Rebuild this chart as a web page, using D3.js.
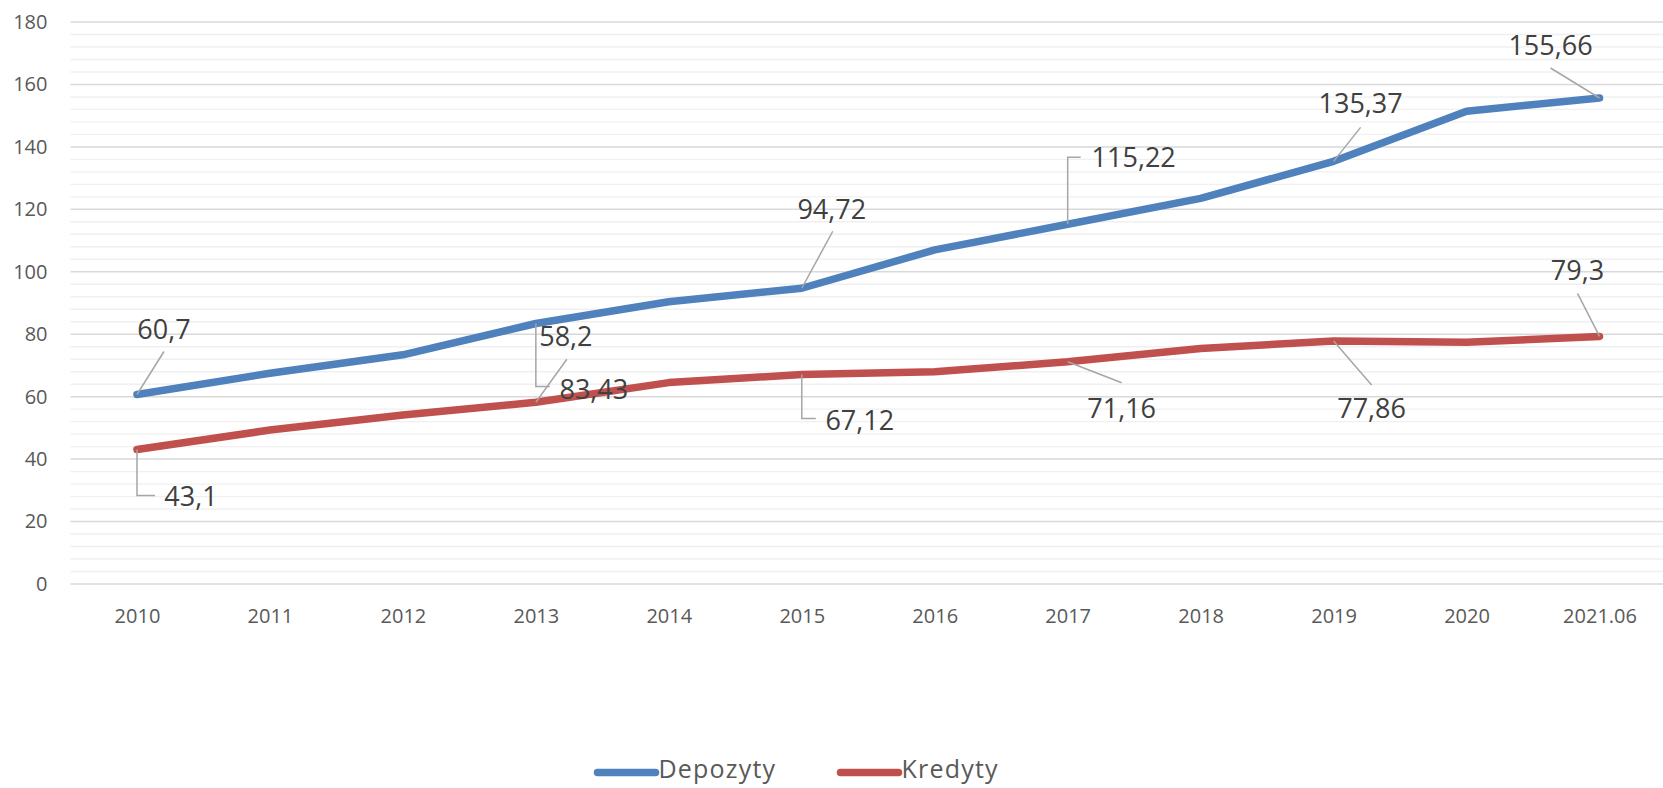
<!DOCTYPE html>
<html>
<head>
<meta charset="utf-8">
<script src="https://cdn.jsdelivr.net/npm/d3@7"></script>
<style>
  body { margin: 0; background: #fff; }
  svg { display: block; font-family: "Open Sans", sans-serif; }
</style>
</head>
<body>
<div id="chart"></div>
<script>
// data
var years = ['2010', '2011', '2012', '2013', '2014', '2015', '2016', '2017', '2018', '2019', '2020', '2021.06'];
var depozyty = [60.7, 67.5, 73.4, 83.43, 90.4, 94.72, 107.0, 115.22, 123.5, 135.37, 151.4, 155.66];
var kredyty = [43.1, 49.3, 54.1, 58.2, 64.5, 67.12, 68.0, 71.16, 75.4, 77.86, 77.4, 79.3];
var yTicks = [0, 20, 40, 60, 80, 100, 120, 140, 160, 180];
var labelled = ['2010', '2013', '2015', '2017', '2019', '2021.06'];

// where the data labels sit, relative to their point (px)
// [dx, dy] of text, [ex, ey] end of leader, elbow = bent leader
var depLabelPos = [
  { dx: 27, dy: -55, ex: 27, ey: -43, elbow: false },
  { dx: 58, dy: 75, ex: 14, ey: 63, elbow: true },
  { dx: 30, dy: -69, ex: 31, ey: -57, elbow: false },
  { dx: 66, dy: -57, ex: 13, ey: -67, elbow: true },
  { dx: 27, dy: -48, ex: 27, ey: -34, elbow: false },
  { dx: -49, dy: -43, ex: -49, ey: -30, elbow: false }
];
var kreLabelPos = [
  { dx: 54, dy: 57, ex: 18, ey: 46, elbow: true },
  { dx: 30, dy: -56, ex: 31, ey: -43, elbow: false },
  { dx: 58, dy: 56, ex: 14, ey: 44, elbow: true },
  { dx: 54, dy: 56, ex: 54, ey: 21, elbow: false },
  { dx: 38, dy: 77, ex: 38, ey: 44, elbow: false },
  { dx: -22, dy: -56, ex: -22, ey: -43, elbow: false }
];

var svgWidth = 1663;
var svgHeight = 788;
var margin = { top: 22, right: -3, bottom: 204, left: 70.5 };
var width = svgWidth - margin.left - margin.right;
var height = svgHeight - margin.top - margin.bottom;

var svg = d3.select('#chart')
  .append('svg')
  .attr('width', svgWidth)
  .attr('height', svgHeight);

var chartGroup = svg.append('g')
  .attr('transform', `translate(${margin.left}, ${margin.top})`);

var xScale = d3.scalePoint()
  .domain(years)
  .range([0, width])
  .padding(0.5);

var yScale = d3.scaleLinear()
  .domain([0, 180])
  .range([height, 0]);

// minor gridlines every 4
chartGroup.append('g')
  .selectAll('line')
  .data(d3.range(0, 181, 4).filter(v => v % 20 !== 0))
  .enter()
  .append('line')
  .attr('x1', 0)
  .attr('x2', width)
  .attr('y1', d => yScale(d))
  .attr('y2', d => yScale(d))
  .attr('stroke', '#f0f0f0')
  .attr('stroke-width', 1.4);

// major gridlines
chartGroup.append('g')
  .selectAll('line')
  .data(yTicks)
  .enter()
  .append('line')
  .attr('x1', 0)
  .attr('x2', width)
  .attr('y1', d => yScale(d))
  .attr('y2', d => yScale(d))
  .attr('stroke', '#d9d9d9')
  .attr('stroke-width', 1.5);

// axes
var leftAxis = d3.axisLeft(yScale).tickValues(yTicks).tickSize(0).tickPadding(23);
var bottomAxis = d3.axisBottom(xScale).tickSize(0).tickPadding(25);

var yAxisG = chartGroup.append('g').call(leftAxis);
var xAxisG = chartGroup.append('g')
  .attr('transform', `translate(0, ${height})`)
  .call(bottomAxis);

[yAxisG, xAxisG].forEach(function (g) {
  g.select('.domain').remove();
  g.selectAll('text')
    .attr('font-family', '"Open Sans", sans-serif')
    .attr('font-size', '20px')
    .attr('fill', '#595959');
});

// lines
var lineGen = d3.line()
  .x((d, i) => xScale(years[i]))
  .y(d => yScale(d));

var series = [
  { name: 'Depozyty', values: depozyty, color: '#4f81bd', pos: depLabelPos },
  { name: 'Kredyty', values: kredyty, color: '#c0504d', pos: kreLabelPos }
];

series.forEach(function (s) {
  chartGroup.append('path')
    .datum(s.values)
    .attr('d', lineGen)
    .attr('fill', 'none')
    .attr('stroke', s.color)
    .attr('stroke-width', 7.5)
    .attr('stroke-linecap', 'round')
    .attr('stroke-linejoin', 'round');
});

// data labels with leaders
series.forEach(function (s) {
  var g = chartGroup.append('g');
  labelled.forEach(function (yr, k) {
    var i = years.indexOf(yr);
    var px = xScale(yr);
    var py = yScale(s.values[i]);
    var p = s.pos[k];
    var d = p.elbow
      ? `M${px},${py}V${py + p.ey}H${px + p.ex}`
      : `M${px},${py}L${px + p.ex},${py + p.ey}`;
    g.append('path')
      .attr('d', d)
      .attr('fill', 'none')
      .attr('stroke', '#a6a6a6')
      .attr('stroke-width', 1.5);
    g.append('text')
      .attr('x', px + p.dx)
      .attr('y', py + p.dy)
      .attr('text-anchor', 'middle')
      .attr('font-size', '27px')
      .attr('fill', '#404040')
      .text(String(s.values[i]).replace('.', ','));
  });
});

// legend
var legend = svg.append('g');
var legendX = [597.5, 840.5];
series.forEach(function (s, i) {
  legend.append('line')
    .attr('x1', legendX[i])
    .attr('x2', legendX[i] + 58)
    .attr('y1', 772.5)
    .attr('y2', 772.5)
    .attr('stroke', s.color)
    .attr('stroke-width', 7.5)
    .attr('stroke-linecap', 'round');
  legend.append('text')
    .attr('x', legendX[i] + 61)
    .attr('y', 778)
    .attr('font-size', '25px')
    .attr('letter-spacing', '1.2px')
    .attr('fill', '#595959')
    .text(s.name);
});
</script>
</body>
</html>
